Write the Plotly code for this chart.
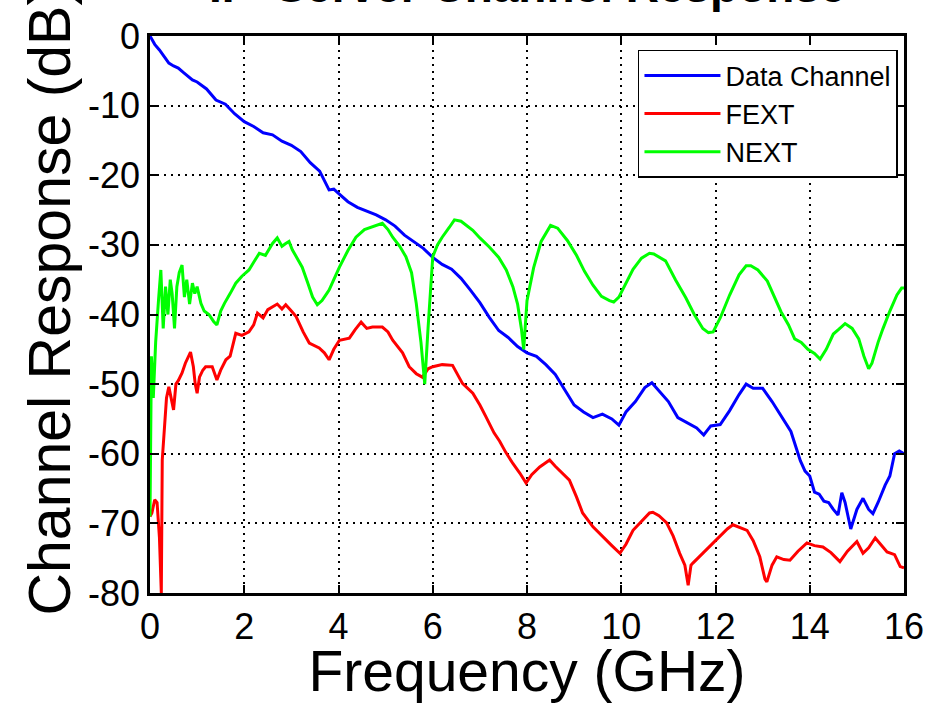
import plotly.graph_objects as go

# ---- data ----
data_f = [0, 0.1, 0.2, 0.3, 0.4, 0.5, 0.6, 0.7, 0.8, 0.9, 1.0, 1.2, 1.4, 1.6, 1.8, 2.0, 2.2, 2.4, 2.6, 2.8,
          3.0, 3.2, 3.4, 3.6, 3.8, 3.9, 4.0, 4.2, 4.4, 4.6, 4.8, 5.0, 5.2, 5.4, 5.6, 5.8, 6.0, 6.2, 6.4, 6.6,
          6.8, 7.0, 7.2, 7.4, 7.6, 7.8, 8.0, 8.2, 8.4, 8.6, 8.8, 9.0, 9.2, 9.4, 9.6, 9.8, 9.95, 10.1, 10.3,
          10.5, 10.65, 10.8, 11.0, 11.2, 11.4, 11.6, 11.75, 11.9, 12.1, 12.3, 12.5, 12.65, 12.8, 13.0, 13.2,
          13.4, 13.6, 13.8, 13.9, 14.0, 14.1, 14.2, 14.3, 14.4, 14.5, 14.6, 14.68, 14.75, 14.87, 15.0, 15.13,
          15.25, 15.34, 15.45, 15.6, 15.7, 15.8, 15.9, 16.0]
data_db = [0, -1.2, -2.0, -3.0, -3.9, -4.3, -4.6, -5.2, -5.8, -6.3, -6.6, -7.6, -9.2, -9.8, -11.2, -12.3,
           -13.0, -13.9, -14.2, -15.1, -15.7, -16.6, -18.2, -19.4, -22.1, -22.0, -22.6, -23.8, -24.6, -25.1,
           -25.7, -26.4, -27.3, -28.6, -29.5, -30.5, -31.8, -32.8, -33.5, -34.8, -36.5, -38.3, -40.4, -42.3,
           -43.3, -44.6, -45.5, -46.0, -47.2, -48.6, -50.8, -53.0, -54.0, -54.8, -54.3, -55.0, -55.9, -54.0,
           -52.5, -50.5, -49.8, -51.0, -52.5, -54.8, -55.5, -56.3, -57.3, -56.0, -55.8, -53.8, -51.5, -50.0,
           -50.6, -50.6, -52.5, -54.6, -56.8, -61.0, -62.5, -63.2, -65.5, -65.8, -66.8, -67.0, -68.0, -68.8,
           -65.6, -67.0, -70.8, -68.0, -66.4, -68.0, -68.6, -67.0, -64.5, -63.2, -60.0, -59.6, -60.0]

fext_f = [0.0, 0.04, 0.1, 0.15, 0.2, 0.23, 0.24, 0.26, 0.3, 0.35, 0.4, 0.45, 0.5, 0.55, 0.6, 0.68, 0.75,
          0.86, 0.92, 0.96, 1.0, 1.05, 1.12, 1.18, 1.32, 1.42, 1.5, 1.61, 1.7, 1.82, 1.95, 2.1, 2.2, 2.28,
          2.4, 2.5, 2.6, 2.7, 2.8, 2.88, 3.0, 3.1, 3.25, 3.38, 3.59, 3.7, 3.8, 3.9, 4.02, 4.23, 4.35, 4.48,
          4.6, 4.72, 4.93, 5.05, 5.15, 5.36, 5.5, 5.65, 5.78, 5.9, 6.0, 6.2, 6.42, 6.52, 6.63, 6.85, 7.0,
          7.13, 7.3, 7.42, 7.55, 7.7, 7.85, 7.98, 8.1, 8.27, 8.4, 8.48, 8.6, 8.75, 8.9, 9.05, 9.18, 9.4,
          9.6, 9.8, 9.97, 10.1, 10.25, 10.45, 10.6, 10.67, 10.8, 10.96, 11.1, 11.24, 11.35, 11.42, 11.48,
          11.52, 11.7, 11.88, 12.1, 12.25, 12.37, 12.5, 12.67, 12.8, 12.94, 13.05, 13.09, 13.2, 13.3,
          13.45, 13.58, 13.75, 13.94, 14.1, 14.28, 14.45, 14.64, 14.8, 15.0, 15.13, 15.25, 15.39, 15.5,
          15.64, 15.8, 15.92, 16.0]
fext_db = [-69, -68.5, -66.6, -67, -72, -80, -80, -60.9, -57, -52, -50.4, -52, -53.7, -50, -49.5, -48.4,
           -47, -45.4, -47.5, -50, -51.3, -49, -48, -47.5, -47.5, -49.4, -48, -46.5, -46, -42.7, -43, -42.5,
           -41.5, -39.8, -40.5, -39.3, -38.9, -38.5, -39.2, -38.6, -39.5, -40.3, -42.5, -44.1, -44.8, -45.5,
           -46.5, -45, -43.7, -43.4, -42.2, -41.1, -42, -41.8, -41.8, -42.5, -43.7, -45.5, -47.5, -48.5, -49,
           -47.8, -47.5, -47.2, -47.3, -48.5, -49.9, -51.3, -53, -54.7, -57, -58.2, -59.8, -61.4, -62.8,
           -64.2, -63, -61.9, -61.2, -60.9, -61.8, -62.8, -63.8, -66.2, -68.5, -70.5, -71.9, -73.2, -74.3,
           -73, -71.0, -69.5, -68.5, -68.4, -68.9, -69.9, -71.8, -74.3, -76, -78.9, -76, -75.7, -74.5,
           -73.4, -71.9, -70.8, -70.2, -70.5, -71.0, -72.5, -74.8, -78.0, -78.4, -76, -74.8, -75.2, -75.3,
           -74, -72.8, -73.2, -73.4, -74.2, -75.5, -74, -72.6, -74.3, -73.5, -72.1, -73, -74.1, -74.5,
           -76.2, -76.4]

next_f = [0.0, 0.03, 0.07, 0.12, 0.18, 0.23, 0.28, 0.33, 0.38, 0.43, 0.47, 0.52, 0.57, 0.62, 0.68, 0.73,
          0.78, 0.84, 0.9, 0.95, 1.0, 1.08, 1.15, 1.25, 1.35, 1.42, 1.5, 1.58, 1.7, 1.82, 1.95, 2.1, 2.2,
          2.32, 2.45, 2.6, 2.7, 2.8, 2.88, 2.95, 3.02, 3.12, 3.23, 3.35, 3.45, 3.55, 3.65, 3.75, 3.8, 3.9,
          4.02, 4.2, 4.37, 4.55, 4.72, 4.85, 4.93, 5.05, 5.15, 5.3, 5.43, 5.55, 5.65, 5.75, 5.83, 5.9, 6.0,
          6.1, 6.2, 6.35, 6.46, 6.6, 6.75, 6.85, 7.0, 7.2, 7.4, 7.56, 7.7, 7.8, 7.88, 7.93, 8.0, 8.14, 8.3,
          8.5, 8.65, 8.86, 9.05, 9.22, 9.4, 9.58, 9.75, 9.84, 9.95, 10.07, 10.25, 10.43, 10.6, 10.69, 10.85,
          10.94, 11.15, 11.37, 11.55, 11.73, 11.85, 11.95, 12.1, 12.3, 12.5, 12.65, 12.75, 12.9, 13.1,
          13.25, 13.39, 13.55, 13.68, 13.82, 13.96, 14.1, 14.22, 14.35, 14.5, 14.62, 14.75, 14.9, 15.04,
          15.15, 15.25, 15.32, 15.45, 15.55, 15.7, 15.85, 15.95, 16.0]
next_db = [-69, -46, -52, -44, -38, -33.6, -42, -36, -40, -35, -37, -42, -36, -34, -32.9, -37.5, -35, -38.5,
           -35.5, -37, -36, -38.4, -39.5, -40, -41, -41.5, -39.5, -38.4, -37, -35.5, -34.5, -33.6, -32.5,
           -31.2, -31.5, -29.8, -29.0, -30.2, -29.8, -29.5, -30.7, -32, -33.2, -35.5, -37.5, -38.6, -38.0,
           -37, -36.5, -35, -33.2, -30.8, -28.9, -27.8, -27.4, -27, -26.9, -27.8, -28.9, -30.2, -31.7, -34,
           -38.4, -44, -50, -42, -31.7, -30, -28.9, -27.5, -26.4, -26.6, -27.4, -27.9, -29.0, -30.3, -31.8,
           -33.6, -36, -38.5, -42, -45, -38, -33.3, -29.5, -27.2, -27.6, -29.4, -31.5, -33.8, -35.8, -37.4,
           -38.0, -38.2, -37.5, -35.8, -33.5, -31.9, -31.2, -31.3, -31.9, -32.3, -35, -37.6, -40, -42.0,
           -42.6, -42.5, -40.5, -37.2, -34.3, -33.0, -33.0, -33.6, -35.2, -37.5, -39.6, -41.5, -43.5, -44.0,
           -45.0, -45.6, -46.4, -45.0, -42.8, -42.1, -41.3, -42.0, -43.5, -46.0, -47.8, -47.0, -44.0, -42.1,
           -39.5, -37.2, -36.2, -36.2]

series_names = ["Data Channel", "FEXT", "NEXT"]
series_colors = ["#0000FF", "#FF0000", "#00FF00"]

x_ticks = [0, 2, 4, 6, 8, 10, 12, 14, 16]
y_ticks = [0, -10, -20, -30, -40, -50, -60, -70, -80]

title_text = "II - Server Channel Response"
x_title = "Frequency (GHz)"
y_title = "Channel Response (dB)"

FONT = "Liberation Sans, Arial, sans-serif"

fig = go.Figure()
for name, color, fx, fy in zip(series_names, series_colors,
                               [data_f, fext_f, next_f], [data_db, fext_db, next_db]):
    fig.add_trace(go.Scatter(x=fx, y=fy, mode="lines", name=name,
                             line=dict(color=color, width=3)))

axis_common = dict(
    showline=True, linecolor="black", linewidth=2.5, mirror="allticks",
    ticks="inside", ticklen=8, tickwidth=2, tickcolor="black",
    showgrid=True, gridcolor="black", griddash="2px,5px", gridwidth=1.5,
    zeroline=False,
    tickfont=dict(family=FONT, size=36, color="black"),
)

fig.update_xaxes(range=[0, 16], tickvals=x_ticks, ticktext=[str(v) for v in x_ticks],
                 title=dict(text=x_title, font=dict(family=FONT, size=57, color="black"), standoff=0),
                 **axis_common)
fig.update_yaxes(range=[-80, 0], tickvals=y_ticks, ticktext=[str(v) for v in y_ticks],
                 **axis_common)

# y-axis title (placed like the reference: slightly above the plot centre)
fig.add_annotation(text=y_title, xref="paper", yref="paper", x=0, y=0.525,
                   xanchor="center", yanchor="middle", xshift=-100, textangle=-90,
                   showarrow=False, font=dict(family=FONT, size=59, color="black"))

# chart title, mostly cut off at the top edge as in the reference
fig.add_annotation(text="<b>" + title_text + "</b>", xref="paper", yref="paper", x=0.5, y=1,
                   xanchor="center", yanchor="bottom", yshift=22, showarrow=False,
                   font=dict(family=FONT, size=46, color="black"))

fig.update_layout(
    width=942, height=703,
    margin=dict(l=150, r=38, t=36, b=110, autoexpand=False),
    paper_bgcolor="white", plot_bgcolor="white",
    showlegend=True,
    legend=dict(x=0.992, y=0.975, xanchor="right", yanchor="top",
                bgcolor="white", bordercolor="black", borderwidth=1.5,
                font=dict(family=FONT, size=27, color="black"),
                tracegroupgap=0, itemwidth=76),
)

fig.write_html("out.html", config={"displayModeBar": False},
               post_script="document.body.style.margin='0';document.body.style.overflow='hidden';")
